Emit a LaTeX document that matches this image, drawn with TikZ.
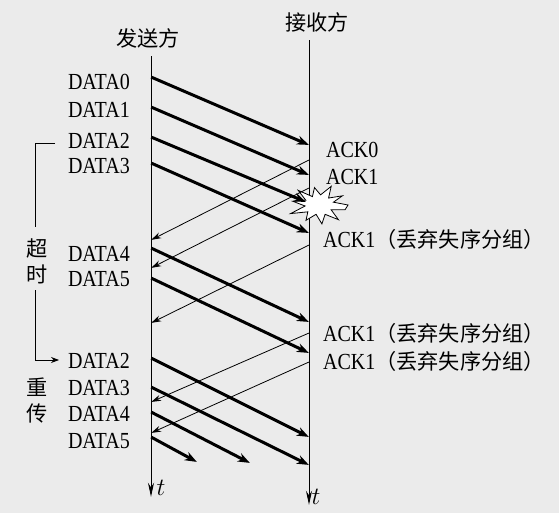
\documentclass[tikz,border=0pt]{standalone}
\usepackage{fontspec}
\setmainfont{Liberation Serif}[FakeStretch=0.87]
\newfontfamily\cjk{Noto Sans CJK SC}[Scale=0.92]
\usetikzlibrary{arrows.meta}

\begin{document}
\begin{tikzpicture}
  [x=1pt, y=-1pt,
   enode/.style={minimum size=0, inner sep=0},
   lbl/.style={inner sep=0, font=\fontsize{23}{26}\selectfont},
   data/.style={line width=3pt, -{Stealth[length=12pt, width=9pt]}},
   ack/.style={line width=0.8pt, -{Stealth[length=10pt, width=6pt]}},
   timeline/.style={line width=0.9pt, -{Stealth[length=14pt, width=6pt]}}]

  % paper
  \fill[black!8] (0,0) rectangle (559,513);
  \useasboundingbox (0,0) rectangle (559,513);

  % time lines
  \node[enode] (stop) at (151,56) {};
  \node[enode] (sbot) at (151,497) {};
  \node[enode] (rtop) at (309,40) {};
  \node[enode] (rbot) at (309,505) {};
  \draw[timeline] (stop) -- (sbot);
  \draw[timeline] (rtop) -- (rbot);
  \node[lbl] (sender) at (148,38) {\cjk 发送方};
  \node[lbl] (receiver) at (317,22) {\cjk 接收方};
  \node[lbl] (ts) at (161,488) {$t$};
  \node[lbl] (tr) at (316,497) {$t$};

  % sender labels
  \node[lbl, anchor=east] (l0) at (130,82) {DATA0};
  \node[lbl, anchor=east] (l1) at (130,110) {DATA1};
  \node[lbl, anchor=east] (l2) at (130,141) {DATA2};
  \node[lbl, anchor=east] (l3) at (130,166) {DATA3};
  \node[lbl, anchor=east] (l4) at (130,254) {DATA4};
  \node[lbl, anchor=east] (l5) at (130,279) {DATA5};
  \node[lbl, anchor=east] (m2) at (130,361) {DATA2};
  \node[lbl, anchor=east] (m3) at (130,388) {DATA3};
  \node[lbl, anchor=east] (m4) at (130,414) {DATA4};
  \node[lbl, anchor=east] (m5) at (130,441) {DATA5};

  % receiver labels
  \node[lbl, anchor=west] (k0) at (326,150) {ACK0};
  \node[lbl, anchor=west] (k1) at (326,177) {ACK1};
  \node[lbl, anchor=west] (k2) at (323,239) {ACK1\cjk（丢弃失序分组）};
  \node[lbl, anchor=west] (k3) at (323,333) {ACK1\cjk（丢弃失序分组）};
  \node[lbl, anchor=west] (k4) at (323,361) {ACK1\cjk（丢弃失序分组）};

  % timeout bracket
  \coordinate (btop) at (55,143);
  \coordinate (bmid) at (35,227);
  \coordinate (blow) at (35,290);
  \coordinate (bend) at (59,360);
  \draw[line width=0.8pt] (btop) -| (bmid);
  \draw[line width=0.8pt, -{Stealth[length=8pt, width=6pt]}] (blow) |- (bend);
  \node[lbl] (chao) at (37,248) {\cjk 超};
  \node[lbl] (shi) at (37,274) {\cjk 时};
  \node[lbl] (zhong) at (37,387) {\cjk 重};
  \node[lbl] (chuan) at (37,413) {\cjk 传};

  % data frames
  \node[enode] (r0) at (309,145) {};
  \node[enode] (s0) at (151,77) {} edge[data] (r0);
  \node[enode] (r1) at (309,175) {};
  \node[enode] (s1) at (151,107) {} edge[data] (r1);
  \node[enode] (r3) at (309,233) {};
  \node[enode] (s3) at (151,163) {} edge[data] (r3);
  \node[enode] (r4) at (309,322) {};
  \node[enode] (s4) at (151,248) {} edge[data] (r4);
  \node[enode] (r5) at (309,353) {};
  \node[enode] (s5) at (151,278) {} edge[data] (r5);

  % resent frames
  \node[enode] (q2) at (309,437) {};
  \node[enode] (p2) at (151,358) {} edge[data] (q2);
  \node[enode] (q3) at (309,465) {};
  \node[enode] (p3) at (151,387) {} edge[data] (q3);
  \node[enode] (q4) at (250,463) {};
  \node[enode] (p4) at (151,412) {} edge[data] (q4);
  \node[enode] (q5) at (197,462) {};
  \node[enode] (p5) at (151,437) {} edge[data] (q5);

  % lost frame
  \draw[fill=white, line width=0.8pt] (348,205)
    \foreach \a/\r in {16/15, 30/27, 47/14, 66/30, 84/15, 100/26, 118/14,
                       134/30, 152/15, 168/27, 186/14, 204/31, 222/15,
                       240/26, 258/14, 276/28, 294/15, 312/29, 330/14, 345/27}
    { -- ({319+\r*cos(\a)}, {205-0.68*\r*sin(\a)}) } -- cycle;
  \node[enode] (r2) at (306,202) {};
  \node[enode] (s2) at (151,137) {} edge[data] (r2);

  % acks
  \node[enode] (a0) at (151,240) {};
  \node[enode] (b0) at (309,160) {} edge[ack] (a0);
  \node[enode] (a1) at (151,268) {};
  \node[enode] (b1) at (309,188) {} edge[ack] (a1);
  \node[enode] (a2) at (151,323) {};
  \node[enode] (b2) at (309,245) {} edge[ack] (a2);
  \node[enode] (a3) at (151,402) {};
  \node[enode] (b3) at (309,333) {} edge[ack] (a3);
  \node[enode] (a4) at (151,433) {};
  \node[enode] (b4) at (309,362) {} edge[ack] (a4);

\end{tikzpicture}
\end{document}
